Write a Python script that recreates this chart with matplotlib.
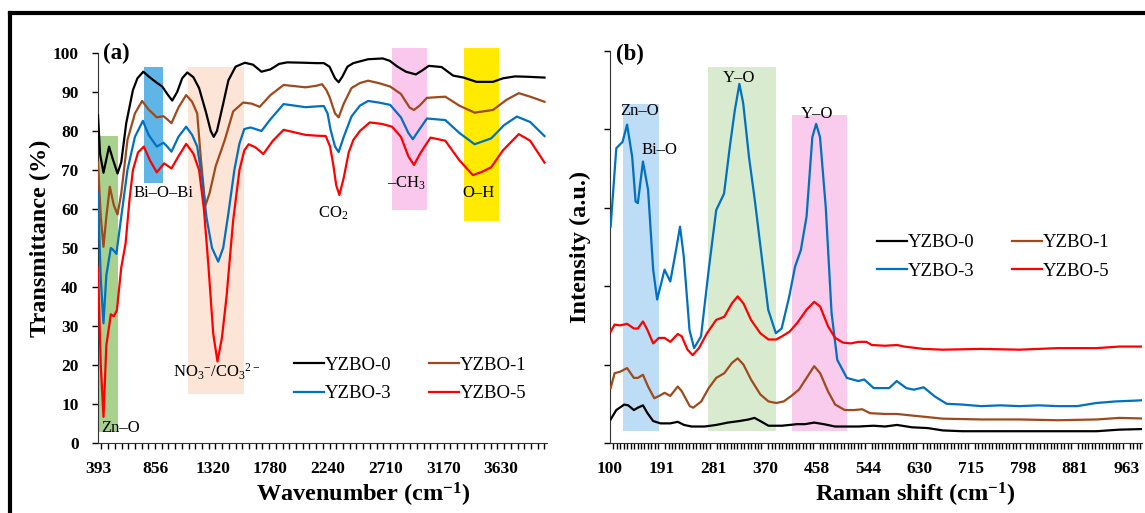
import numpy as np
import matplotlib
matplotlib.use("Agg")
import matplotlib.pyplot as plt
from matplotlib.patches import Rectangle
from matplotlib.lines import Line2D
from matplotlib.ticker import FixedLocator, NullFormatter

plt.rcParams['font.family'] = ['Liberation Serif', 'DejaVu Serif']
plt.rcParams['mathtext.fontset'] = 'custom'
plt.rcParams['mathtext.rm'] = 'Liberation Serif'
plt.rcParams['mathtext.it'] = 'Liberation Serif:italic'
plt.rcParams['mathtext.bf'] = 'Liberation Serif:bold'

series_names = ['YZBO-0', 'YZBO-1', 'YZBO-3', 'YZBO-5']
series_colors = ['#000000', '#9E4A1C', '#0070C0', '#FF0000']

# ---------------- (a) FTIR ----------------
ftir_ticks = [393, 856, 1320, 1780, 2240, 2710, 3170, 3630]

ftir0_x = [393, 410, 437, 455, 482, 510, 550, 580, 620, 674, 710, 757, 800, 860, 910, 950, 990, 1030,
           1070, 1111, 1160, 1206, 1260, 1300, 1324, 1350, 1400, 1442, 1500, 1575, 1640, 1708, 1780,
           1850, 1915, 2050, 2150, 2210, 2255, 2300, 2329, 2360, 2400, 2447, 2566, 2684, 2740, 2802,
           2870, 2950, 3000, 3054, 3157, 3250, 3334, 3438, 3571, 3650, 3748, 3850, 3985]
ftir0_y = [84, 74, 69.3, 72, 76, 73, 69.1, 72, 82, 90.5, 93.5, 95.2, 94, 92.5, 91.4, 89.5, 87.8, 90,
           93.5, 95, 93.8, 91, 85, 80, 78.5, 80, 87, 93, 96.5, 97.5, 97, 95.2, 95.8,
           97.2, 97.6, 97.5, 97.4, 97.4, 96.5, 93.5, 92.5, 94, 96.5, 97.4, 98.4, 98.6, 98, 96.5,
           95.2, 94.5, 95.5, 96.7, 96.4, 94.2, 93.7, 92.6, 92.6, 93.5, 94, 93.9, 93.7]

ftir1_x = [393, 415, 437, 460, 488, 520, 550, 580, 630, 690, 748, 800, 866, 919, 950, 984, 1040, 1102,
           1150, 1191, 1220, 1256, 1290, 1340, 1413, 1480, 1561, 1630, 1694, 1780, 1886, 2063, 2150,
           2196, 2230, 2255, 2300, 2329, 2370, 2432, 2500, 2566, 2650, 2743, 2830, 2900, 2935, 2980,
           3039, 3187, 3300, 3423, 3571, 3680, 3778, 3870, 3985]
ftir1_y = [72, 58, 50.3, 58, 65.7, 61, 58.6, 64, 77.7, 84.5, 87.7, 85.5, 83.5, 83.8, 83, 82, 86, 89.2,
           87.5, 84.5, 73, 60.8, 64, 71, 77.7, 85, 87.3, 87, 86.2, 89.2, 91.8, 91.2, 91.6,
           92, 90.5, 88.8, 84.5, 83.5, 87, 91, 92.3, 92.9, 92.3, 91.4, 89.5, 86, 85.4, 86.5,
           88.5, 88.8, 86.5, 84.7, 85.4, 88, 89.7, 88.8, 87.5]

ftir3_x = [393, 415, 437, 460, 496, 515, 541, 580, 630, 690, 754, 800, 866, 919, 950, 984, 1040, 1102,
           1150, 1191, 1230, 1265, 1310, 1360, 1400, 1442, 1490, 1531, 1570, 1620, 1660, 1708, 1780,
           1886, 2063, 2150, 2210, 2240, 2264, 2300, 2329, 2370, 2432, 2500, 2566, 2650, 2743, 2830,
           2890, 2926, 2970, 3039, 3187, 3300, 3423, 3556, 3660, 3763, 3870, 3985]
ftir3_y = [64, 42, 30.7, 43, 50, 49.5, 48.5, 58, 70, 78.5, 82.6, 79, 76, 77, 76, 74.7, 78.5, 81.1,
           79, 76, 68, 58, 50, 46.5, 50, 58.9, 70, 76.8, 80.5, 80.9, 80.5, 80, 83,
           86.9, 86.1, 86.3, 86.4, 84.5, 80.3, 76, 74.6, 78.5, 83.7, 86.5, 87.7, 87.3, 86.7, 83.5,
           79.5, 77.9, 80, 83.2, 82.8, 79.5, 76.6, 78.1, 81.5, 83.7, 82.3, 78.7]

ftir5_x = [393, 415, 437, 460, 496, 520, 545, 580, 615, 645, 674, 715, 762, 810, 866, 925, 984, 1040,
           1102, 1160, 1206, 1245, 1280, 1320, 1354, 1390, 1427, 1480, 1531, 1570, 1605, 1660, 1723,
           1800, 1886, 2063, 2150, 2225, 2260, 2284, 2310, 2335, 2370, 2410, 2447, 2500, 2580, 2680,
           2758, 2830, 2890, 2935, 2990, 3068, 3187, 3300, 3408, 3480, 3556, 3650, 3778, 3870, 3985]
ftir5_y = [45, 20, 6.7, 25, 33, 32.5, 34, 45, 51.2, 62, 70, 74.5, 76, 72.5, 69.4, 71.7, 70.4, 73.5,
           76.7, 74.2, 70, 60, 46, 28, 20.9, 27, 37.5, 57, 70, 75, 76.6, 75.8, 74.1,
           77.5, 80.3, 79, 78.8, 78.7, 76, 71.7, 66, 63.6, 68, 74.5, 77.7, 80, 82.2, 81.8,
           81.1, 78.5, 73.5, 71.3, 74.5, 78.3, 77.5, 72.5, 68.7, 69.5, 70.7, 75, 79.2, 77.5, 71.9]

ftir_bands = [(401, 554, 2.8, 78.7, '#A9D18E'),
              (767, 916, 66.7, 96.5, '#5FB6E6'),
              (1113, 1564, 12.6, 96.5, '#FCE4D6'),
              (2760, 3038, 59.7, 101.2, '#F9C8EC'),
              (3340, 3623, 56.8, 101.2, '#FFEA00')]
ftir_notes = [(578, 3.9, 'Zn–O'), (921, 64, 'Bi–O–Bi'), (1351, 18.3, 'NO$_3{}^{-}$/CO$_3{}^{2-}$'),
              (2282, 59, 'CO$_2$'), (2873, 66.7, '–CH$_3$'), (3452, 64, 'O–H')]

# ---------------- (b) Raman ----------------
raman_ticks = [100, 191, 281, 370, 458, 544, 630, 715, 798, 881, 963]

raman0_x = [101, 111, 125, 132, 142, 149, 158, 166, 176, 189, 206, 219, 230, 243, 266, 286, 306, 326,
            342, 352, 362, 376, 399, 425, 438, 454, 470, 489, 528, 553, 572, 592, 617, 643, 668, 700,
            731, 792, 854, 916, 952, 1000]
raman0_y = [0.30, 0.42, 0.49, 0.48, 0.42, 0.45, 0.48, 0.38, 0.28, 0.25, 0.25, 0.27, 0.23, 0.21, 0.21,
            0.23, 0.26, 0.28, 0.30, 0.32, 0.28, 0.22, 0.22, 0.24, 0.24, 0.26, 0.24, 0.21, 0.21, 0.22,
            0.21, 0.23, 0.20, 0.19, 0.16, 0.15, 0.15, 0.15, 0.15, 0.15, 0.17, 0.18]

raman1_x = [101, 108, 118, 130, 142, 149, 158, 167, 178, 189, 196, 206, 219, 226, 240, 246, 260, 273,
            286, 300, 313, 323, 333, 346, 362, 376, 389, 402, 415, 428, 441, 454, 464, 477, 489, 505,
            521, 534, 547, 572, 592, 617, 643, 668, 731, 792, 854, 916, 952, 1000]
raman1_y = [0.70, 0.89, 0.91, 0.955, 0.83, 0.83, 0.87, 0.72, 0.57, 0.61, 0.64, 0.60, 0.72, 0.66, 0.47,
            0.45, 0.53, 0.70, 0.83, 0.89, 1.02, 1.08, 1.00, 0.81, 0.62, 0.53, 0.51, 0.53, 0.60, 0.68,
            0.83, 0.98, 0.89, 0.66, 0.49, 0.42, 0.42, 0.43, 0.38, 0.37, 0.37, 0.35, 0.33, 0.31, 0.30,
            0.30, 0.29, 0.30, 0.32, 0.31]

raman3_x = [101, 111, 122, 130, 139, 145, 149, 158, 167, 176, 183, 196, 206, 216, 223, 229.5, 239.5,
            247.5, 259.6, 273, 286, 299.5, 309.5, 318, 326, 332.6, 342.5, 352.5, 362.4, 375.6, 388.6,
            398.5, 411.5, 421.4, 431.2, 441, 450.8, 457.3, 463.8, 473.3, 483, 492.5, 508.5, 527.7,
            537.3, 553.3, 578.9, 591.6, 607.6, 620.4, 636.3, 655.3, 674.2, 699.5, 730.7, 761.6, 792.4,
            823.3, 854.2, 885, 915.5, 946, 976.4, 1000]
raman3_y = [2.76, 3.76, 3.84, 4.06, 3.65, 3.08, 3.06, 3.59, 3.23, 2.21, 1.83, 2.21, 2.06, 2.46, 2.76,
            2.38, 1.44, 1.21, 1.36, 2.21, 2.97, 3.18, 3.78, 4.24, 4.58, 4.33, 3.65, 3.10, 2.50, 1.70,
            1.40, 1.46, 1.87, 2.25, 2.46, 2.89, 3.90, 4.07, 3.90, 3.01, 1.66, 1.06, 0.83, 0.79, 0.81,
            0.70, 0.70, 0.79, 0.70, 0.68, 0.71, 0.59, 0.50, 0.49, 0.47, 0.48, 0.47, 0.48, 0.47, 0.47,
            0.51, 0.53, 0.54, 0.55]

raman5_x = [101, 108, 118, 130, 142, 149, 158, 166, 176, 186, 196, 206, 219, 226, 236, 245, 256, 270,
            286, 300, 313, 323, 333, 346, 362, 376, 389, 399, 412, 425, 441, 454, 464, 477, 489, 502,
            515, 528, 541, 550, 572, 592, 604, 636, 668, 731, 792, 854, 916, 952, 1000]
raman5_y = [1.42, 1.51, 1.50, 1.52, 1.46, 1.46, 1.55, 1.44, 1.27, 1.34, 1.34, 1.29, 1.39, 1.36, 1.19,
            1.12, 1.21, 1.40, 1.57, 1.61, 1.78, 1.87, 1.78, 1.57, 1.40, 1.32, 1.32, 1.36, 1.42, 1.53,
            1.70, 1.80, 1.74, 1.49, 1.34, 1.28, 1.27, 1.29, 1.29, 1.25, 1.24, 1.25, 1.23, 1.20, 1.19,
            1.20, 1.19, 1.21, 1.21, 1.23, 1.23]

raman_bands = [(122, 187, 0.15, 4.33, '#BCDDF5'),
               (271, 389, 0.15, 4.80, '#D9EBCF'),
               (416, 508, 0.15, 4.18, '#F9CBEC')]
raman_notes = [(152, 4.24, 'Zn–O'), (187, 3.74, 'Bi–O'), (326, 4.65, 'Y–O'), (458, 4.20, 'Y–O')]


def raman_fwd(x):
    x = np.asarray(x, dtype=float)
    t = np.asarray(raman_ticks, dtype=float)
    idx = np.arange(len(t))
    p = np.interp(x, t, idx)
    p = np.where(x < t[0], (x - t[0]) / (t[1] - t[0]), p)
    p = np.where(x > t[-1], idx[-1] + (x - t[-1]) / (t[-1] - t[-2]), p)
    return p


def raman_inv(p):
    p = np.asarray(p, dtype=float)
    t = np.asarray(raman_ticks, dtype=float)
    idx = np.arange(len(t))
    x = np.interp(p, idx, t)
    x = np.where(p < 0, t[0] + p * (t[1] - t[0]), x)
    x = np.where(p > idx[-1], t[-1] + (p - idx[-1]) * (t[-1] - t[-2]), x)
    return x


fig = plt.figure(figsize=(11.45, 5.13), dpi=100)
ax1 = fig.add_axes([0.0856, 0.1365, 0.3921, 0.7602])
ax2 = fig.add_axes([0.5328, 0.1365, 0.4646, 0.7641])

# frame around the figure (only top and left visible)
fig.add_artist(Line2D([9.5 / 1145, 1], [1 - 12.5 / 513, 1 - 12.5 / 513], transform=fig.transFigure,
                      color='black', lw=3))
fig.add_artist(Line2D([10.5 / 1145, 10.5 / 1145], [0, 1 - 12.5 / 513], transform=fig.transFigure,
                      color='black', lw=3))

tick_font = dict(family='Liberation Serif', weight='bold', size=12.5)
label_font = dict(family='Liberation Serif', weight='bold', size=17.5)
note_size = 12

# ---- panel a ----
for x0, x1, y0, y1, c in ftir_bands:
    ax1.add_patch(Rectangle((x0, y0), x1 - x0, y1 - y0, facecolor=c, edgecolor='none',
                            zorder=0, clip_on=False))
ftir_series = [(ftir0_x, ftir0_y), (ftir1_x, ftir1_y), (ftir3_x, ftir3_y), (ftir5_x, ftir5_y)]
lines1 = []
for (xs, ys), name, c in zip(ftir_series, series_names, series_colors):
    ln, = ax1.plot(xs, ys, color=c, lw=1.6, label=name, zorder=3, solid_joinstyle='round')
    lines1.append(ln)
for x, y, s in ftir_notes:
    ax1.text(x, y, s, ha='center', va='center', fontsize=note_size, zorder=4)

ax1.set_xlim(393, 4005)
ax1.set_ylim(0, 100)
ax1.set_yticks(np.arange(0, 101, 10))
ax1.set_xticks(ftir_ticks)
ax1.set_xticklabels([str(t) for t in ftir_ticks], **tick_font)
ax1.set_yticklabels([str(v) for v in range(0, 101, 10)], **tick_font)
ax1.xaxis.set_minor_locator(FixedLocator(np.arange(393 + 27, 4005, 54)))
ax1.tick_params(axis='x', which='major', length=0, pad=13)
ax1.tick_params(axis='x', which='minor', length=4, width=1, direction='out')
ax1.tick_params(axis='y', which='major', length=4, width=1, direction='out', pad=10)
for sp in ['top', 'right']:
    ax1.spines[sp].set_visible(False)
for sp in ['left', 'bottom']:
    ax1.spines[sp].set_color('#333333')
ax1.text(0.59, -0.133, r'Wavenumber (cm$^{\mathbf{-1}}$)', transform=ax1.transAxes,
         ha='center', va='center', **label_font)
ax1.text(-0.129, 0.526, 'Transmittance (%)', transform=ax1.transAxes, rotation=90,
         ha='center', va='center', **label_font)
ax1.text(0.01, 1.0, '(a)', transform=ax1.transAxes, ha='left', va='center',
         family='Liberation Serif', weight='bold', size=16.5)
leg_order = [0, 2, 1, 3]
ax1.legend([lines1[i] for i in leg_order], [series_names[i] for i in leg_order], ncol=2,
           loc='center left', bbox_to_anchor=(0.4365, 0.163), frameon=False, borderpad=0,
           borderaxespad=0, handlelength=1.6, handletextpad=0.05, columnspacing=2.0,
           labelspacing=0.62, prop=dict(family='Liberation Serif', size=13.5))

# ---- panel b ----
ax2.set_xscale('function', functions=(raman_fwd, raman_inv))
for x0, x1, y0, y1, c in raman_bands:
    ax2.add_patch(Rectangle((x0, y0), x1 - x0, y1 - y0, facecolor=c, edgecolor='none',
                            zorder=0, clip_on=False))
raman_series = [(raman0_x, raman0_y), (raman1_x, raman1_y), (raman3_x, raman3_y), (raman5_x, raman5_y)]
lines2 = []
for (xs, ys), name, c in zip(raman_series, series_names, series_colors):
    ln, = ax2.plot(xs, ys, color=c, lw=1.6, label=name, zorder=3, solid_joinstyle='round')
    lines2.append(ln)
for x, y, s in raman_notes:
    ax2.text(x, y, s, ha='center', va='center', fontsize=note_size, zorder=4)

ax2.set_xlim(100, 988)
ax2.set_ylim(0, 5)
ax2.set_yticks(np.arange(0, 6, 1))
ax2.yaxis.set_major_formatter(NullFormatter())
ax2.set_xticks(raman_ticks)
ax2.set_xticklabels([str(t) for t in raman_ticks], **tick_font)
ax2.xaxis.set_minor_locator(FixedLocator(raman_inv(np.arange(0, 10.3, 1 / 15))))
ax2.tick_params(axis='x', which='major', length=0, pad=13)
ax2.tick_params(axis='x', which='minor', length=4, width=1, direction='out')
ax2.tick_params(axis='y', which='major', length=4, width=1, direction='out')
for sp in ['top', 'right']:
    ax2.spines[sp].set_visible(False)
for sp in ['left', 'bottom']:
    ax2.spines[sp].set_color('#333333')
ax2.text(0.573, -0.133, r'Raman shift (cm$^{\mathbf{-1}}$)', transform=ax2.transAxes,
         ha='center', va='center', **label_font)
ax2.text(-0.056, 0.5, 'Intensity (a.u.)', transform=ax2.transAxes, rotation=90,
         ha='center', va='center', **label_font)
ax2.text(0.012, 0.99, '(b)', transform=ax2.transAxes, ha='left', va='center',
         family='Liberation Serif', weight='bold', size=16.5)
ax2.legend([lines2[i] for i in leg_order], [series_names[i] for i in leg_order], ncol=2,
           loc='center left', bbox_to_anchor=(0.502, 0.4745), frameon=False, borderpad=0,
           borderaxespad=0, handlelength=1.6, handletextpad=0.05, columnspacing=2.0,
           labelspacing=0.62, prop=dict(family='Liberation Serif', size=13.5))

fig.savefig('out.png', dpi=100)
